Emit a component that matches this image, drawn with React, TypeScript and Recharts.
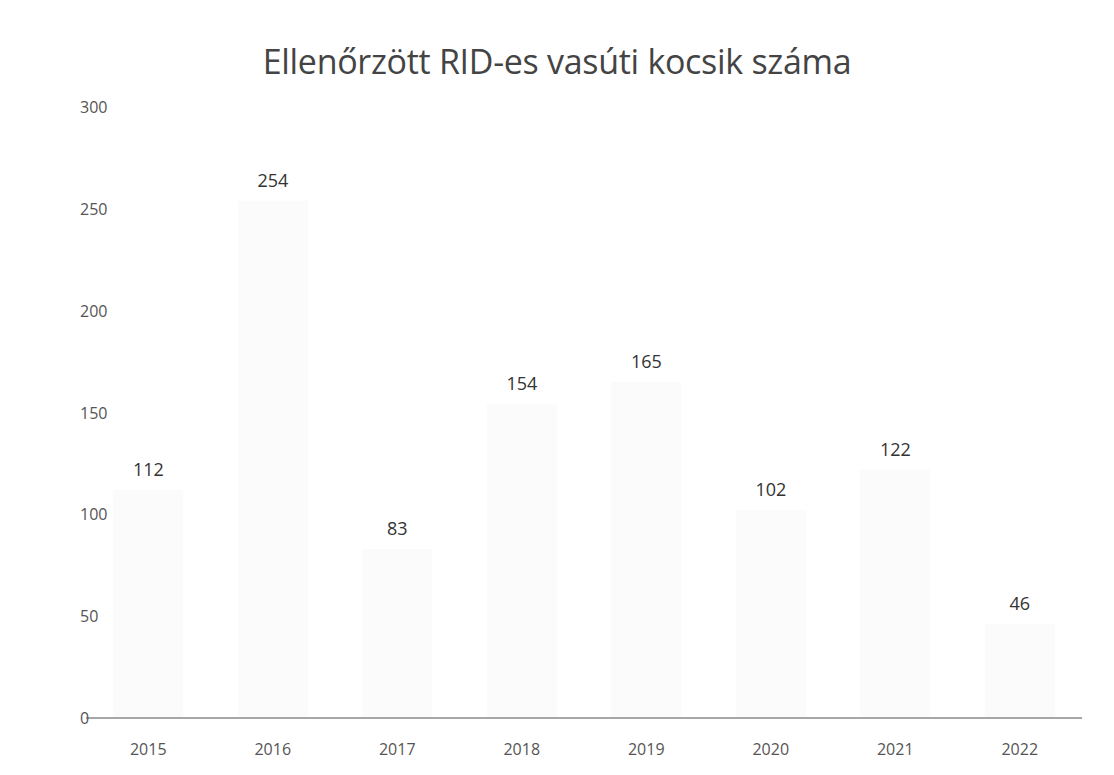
import React from "react";
import { BarChart, Bar, XAxis, YAxis, LabelList, CartesianGrid } from "recharts";

const years = ["2015", "2016", "2017", "2018", "2019", "2020", "2021", "2022"];
const counts = [112, 254, 83, 154, 165, 102, 122, 46];
const yTicks = [0, 50, 100, 150, 200, 250, 300];
const title = "Ellenőrzött RID-es vasúti kocsik száma";

const data = years.map((y, i) => ({ year: y, value: counts[i] }));

const FONT = "'Open Sans', 'Noto Sans', sans-serif";

const YTick = (props: any) => {
  const { y, payload } = props;
  return (
    <text x={72} y={y} dy={6} textAnchor="start" fill="#555" fontSize={16} fontFamily={FONT}>
      {payload.value}
    </text>
  );
};

export default function App() {
  return (
    <div style={{ position: "relative", width: 1098, height: 759, background: "#fff" }}>
      <div
        style={{
          position: "absolute",
          left: 0,
          width: 1098,
          top: 30,
          textAlign: "center",
          fontFamily: FONT,
          fontSize: 34,
          color: "#444",
          letterSpacing: -0.3,
        }}
      >
        {title}
      </div>
      <BarChart
        width={1098}
        height={759}
        data={data}
        margin={{ top: 99, right: 24, bottom: 19, left: 0 }}
        barCategoryGap="22%"
      >
        <CartesianGrid vertical={false} horizontal={false} />
        <XAxis
          dataKey="year"
          axisLine={{ stroke: "#8a8a8a", strokeWidth: 1.5 }}
          tickLine={false}
          tickMargin={20}
          tick={{ fill: "#555", fontSize: 16, fontFamily: FONT }}
          height={30}
        />
        <YAxis
          domain={[0, 300]}
          ticks={yTicks}
          width={78}
          axisLine={false}
          tickLine={false}
          tick={<YTick />}
        />
        <Bar dataKey="value" fill="#fbfbfb" isAnimationActive={false}>
          <LabelList
            dataKey="value"
            position="top"
            offset={14}
            fill="#333"
            fontSize={18}
            fontFamily={FONT}
          />
        </Bar>
      </BarChart>
    </div>
  );
}
